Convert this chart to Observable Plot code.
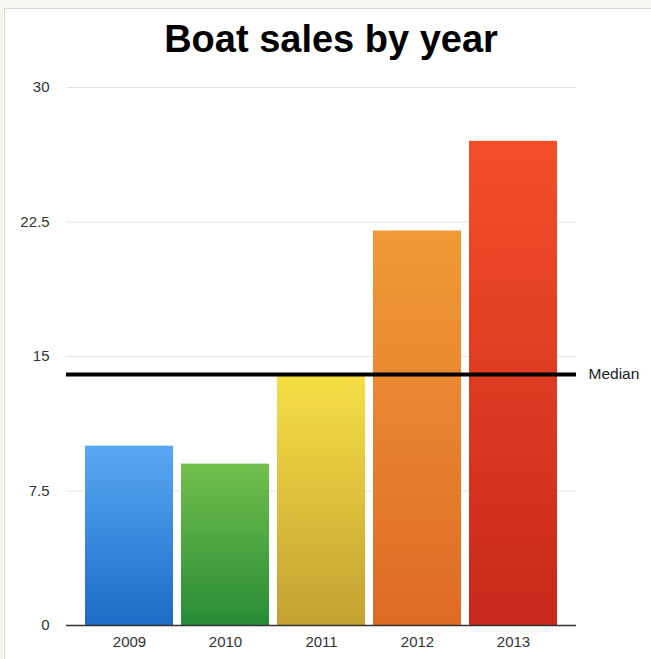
<!DOCTYPE html>
<html>
<head>
<meta charset="utf-8">
<script src="https://cdn.jsdelivr.net/npm/d3@7"></script>
<script src="https://cdn.jsdelivr.net/npm/@observablehq/plot@0.6"></script>
<style>
  html, body { margin: 0; padding: 0; background: #f7f6f3; width: 651px; height: 659px; overflow: hidden; }
  #frame { position: absolute; left: 4px; top: 8px; width: 700px; height: 700px; background: #fff; border: 1px solid #d8d8d8; }
  #title { position: absolute; left: 0; top: 20px; width: 662px; text-align: center; font-family: "Liberation Sans", Arial, Helvetica, sans-serif; font-weight: bold; font-size: 38px; line-height: 38px; color: #000; }
  #chart { position: absolute; left: 0; top: 70px; }
</style>
</head>
<body>
<div id="frame"></div>
<div id="title">Boat sales by year</div>
<div id="chart"></div>
<script>
const years = ["2009", "2010", "2011", "2012", "2013"];
const sales = [10, 9, 14, 22, 27];
const topColors = ["#58a8f4", "#72bf4c", "#f6df46", "#ef9a36", "#f44e29"];
const bottomColors = ["#1a6cc6", "#288c36", "#c4a131", "#df6a26", "#c7281a"];
const yTicks = [0, 7.5, 15, 22.5, 30];
const medianLabel = "Median";
const medianValue = d3.median(sales);

const data = years.map((year, i) => ({ year, sales: sales[i], fill: `url(#grad-${year})` }));

const defsMark = () => {
  const defs = d3.create("svg:defs");
  years.forEach((year, i) => {
    const g = defs.append("linearGradient")
      .attr("id", `grad-${year}`)
      .attr("x1", 0).attr("y1", 0).attr("x2", 0).attr("y2", 1);
    g.append("stop").attr("offset", "0%").attr("stop-color", topColors[i]);
    g.append("stop").attr("offset", "100%").attr("stop-color", bottomColors[i]);
  });
  return defs.node();
};

const chart = Plot.plot({
  width: 651,
  height: 589,
  marginTop: 17,
  marginBottom: 34,
  marginLeft: 66,
  marginRight: 75,
  style: { fontFamily: "'Liberation Sans', Arial, Helvetica, sans-serif", fontSize: "15px", color: "#333", background: "transparent" },
  x: { domain: years, paddingInner: 0.085, paddingOuter: 0.19, label: null },
  y: { domain: [0, 30], ticks: yTicks, label: null },
  color: { type: "identity" },
  marks: [
    defsMark,
    Plot.gridY(yTicks.filter(d => d > 0), { stroke: "#e3e3e3", strokeOpacity: 1, strokeWidth: 1 }),
    Plot.barY(data, { x: "year", y: "sales", fill: "fill" }),
    Plot.ruleY([0], { stroke: "#333", strokeWidth: 1.5 }),
    Plot.ruleY([medianValue], { stroke: "#000", strokeWidth: 4 }),
    Plot.text([medianValue], { y: d => d, frameAnchor: "right", dx: 12, textAnchor: "start", text: () => medianLabel, fontSize: 15.5, fill: "#222" }),
    Plot.axisY({ ticks: yTicks, tickSize: 0, tickPadding: 17, tickFormat: d => String(d), label: null }),
    Plot.axisX({ tickSize: 0, tickPadding: 11, label: null })
  ]
});
document.getElementById("chart").appendChild(chart);
</script>
</body>
</html>
